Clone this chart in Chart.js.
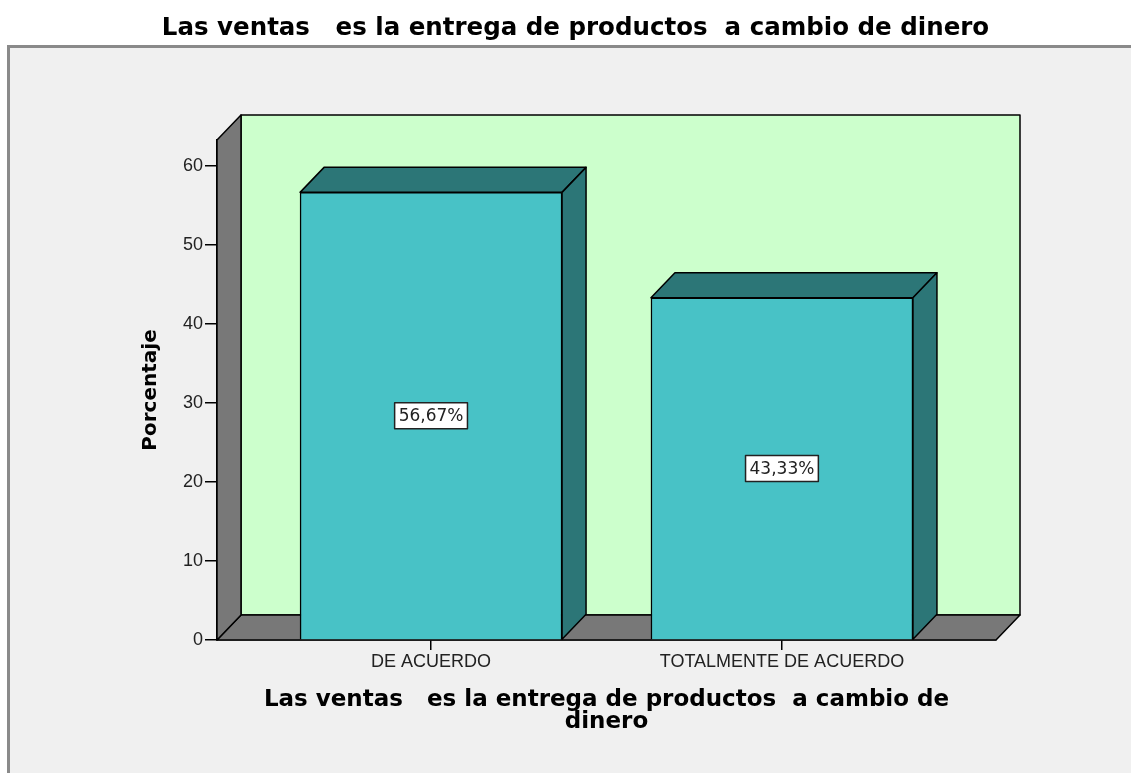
<!DOCTYPE html>
<html lang="es">
<head>
    <meta charset="UTF-8">
    <title>Las ventas es la entrega de productos a cambio de dinero</title>
    <script src="https://cdn.jsdelivr.net/npm/chart.js"></script>
    <style>
        html, body {
            margin: 0;
            padding: 0;
            background: #ffffff;
            overflow: hidden;
        }
        .frame {
            position: absolute;
            left: 7px;
            top: 45px;
            width: 1140px;
            height: 760px;
            background: #f0f0f0;
            border-left: 3px solid #8a8a8a;
            border-top: 3px solid #8a8a8a;
        }
        .wrap {
            position: absolute;
            left: 0;
            top: 0;
            width: 1131px;
            height: 773px;
        }
    </style>
</head>
<body>
<div class="frame"></div>
<div class="wrap"><canvas id="chart" width="1131" height="773"></canvas></div>

<script>
    // datos del gráfico
    const categorias = ['DE ACUERDO', 'TOTALMENTE DE ACUERDO'];
    const porcentajes = [56.67, 43.33];
    const etiquetas = ['56,67%', '43,33%'];
    const yTicks = [0, 10, 20, 30, 40, 50, 60];

    const tituloGrafico = 'Las ventas   es la entrega de productos  a cambio de dinero';
    const tituloX = ['Las ventas   es la entrega de productos  a cambio de', 'dinero'];
    const tituloY = 'Porcentaje';

    // profundidad del efecto 3D
    const DX = 24, DY = -25;
    const FUENTE = '"Liberation Sans", Arial, sans-serif';
    const FUENTE_ANCHA = '"DejaVu Sans", sans-serif';

    function poly(ctx, pts, fill) {
        ctx.beginPath();
        ctx.moveTo(pts[0][0], pts[0][1]);
        for (let i = 1; i < pts.length; i++) ctx.lineTo(pts[i][0], pts[i][1]);
        ctx.closePath();
        ctx.fillStyle = fill;
        ctx.fill();
        ctx.lineWidth = 1.5;
        ctx.strokeStyle = '#000';
        ctx.stroke();
    }

    const paredes = {
        id: 'paredes',
        beforeDatasetsDraw(chart) {
            const { ctx, chartArea: a } = chart;
            ctx.save();
            ctx.lineJoin = 'round';
            // pared del fondo
            poly(ctx, [[a.left + DX, a.top + DY], [a.right + DX, a.top + DY], [a.right + DX, a.bottom + DY], [a.left + DX, a.bottom + DY]], '#ccffcc');
            // piso
            poly(ctx, [[a.left, a.bottom], [a.left + DX, a.bottom + DY], [a.right + DX, a.bottom + DY], [a.right, a.bottom]], '#787878');
            // pared izquierda
            poly(ctx, [[a.left, a.top], [a.left + DX, a.top + DY], [a.left + DX, a.bottom + DY], [a.left, a.bottom]], '#787878');
            ctx.restore();
        },
        afterDatasetsDraw(chart) {
            const { ctx } = chart;
            const meta = chart.getDatasetMeta(0);
            ctx.save();
            ctx.lineJoin = 'round';
            meta.data.forEach((bar, i) => {
                const l = bar.x - bar.width / 2, r = bar.x + bar.width / 2;
                const t = bar.y, b = bar.base;
                // cara superior
                poly(ctx, [[l, t], [l + DX, t + DY], [r + DX, t + DY], [r, t]], '#2c7677');
                // cara lateral
                poly(ctx, [[r, t], [r + DX, t + DY], [r + DX, b + DY], [r, b]], '#2c7677');
                // etiqueta
                const cy = (t + b) / 2;
                ctx.font = '17px ' + FUENTE_ANCHA;
                const w = ctx.measureText(etiquetas[i]).width + 8;
                const h = 26;
                ctx.fillStyle = '#fff';
                ctx.fillRect(bar.x - w / 2, cy - h / 2, w, h);
                ctx.lineWidth = 1.5;
                ctx.strokeStyle = '#222';
                ctx.strokeRect(bar.x - w / 2, cy - h / 2, w, h);
                ctx.fillStyle = '#222';
                ctx.textAlign = 'center';
                ctx.textBaseline = 'middle';
                ctx.fillText(etiquetas[i], bar.x, cy + 1);
            });
            ctx.restore();
        }
    };

    const ctx = document.getElementById('chart').getContext('2d');
    new Chart(ctx, {
        type: 'bar',
        data: {
            datasets: [{
                data: porcentajes.map((v, i) => ({ x: i, y: v })),
                backgroundColor: '#48c2c6',
                borderColor: '#000',
                borderWidth: 1.5,
                barThickness: 262
            }]
        },
        plugins: [paredes],
        options: {
            responsive: false,
            animation: false,
            layout: { padding: { left: 20, right: 0, top: 0, bottom: 0 } },
            plugins: {
                legend: { display: false },
                tooltip: { enabled: false },
                title: {
                    display: true,
                    text: tituloGrafico,
                    color: '#000',
                    font: { family: FUENTE_ANCHA, size: 24.5, weight: 'bold', lineHeight: 1.2 },
                    padding: { top: 13.5, bottom: 97.1 }
                }
            },
            scales: {
                x: {
                    type: 'linear',
                    offset: false,
                    min: -0.61,
                    max: 1.61,
                    afterBuildTicks: s => { s.ticks = categorias.map((c, i) => ({ value: i })); },
                    afterFit: s => { s.height = 133; },
                    ticks: {
                        callback: v => categorias[v],
                        color: '#222',
                        font: { family: FUENTE, size: 18 },
                        padding: 1,
                        maxRotation: 0,
                        autoSkip: false
                    },
                    grid: { offset: false, drawOnChartArea: false, drawTicks: true, tickLength: 10, color: '#000', lineWidth: 1.5 },
                    border: { display: true, color: '#000', width: 1.5 },
                    title: {
                        display: true,
                        text: tituloX,
                        color: '#000',
                        font: { family: FUENTE_ANCHA, size: 23, weight: 'bold', lineHeight: 0.96 },
                        padding: { top: 0, bottom: 40 }
                    }
                },
                y: {
                    min: 0,
                    max: 63.3,
                    afterBuildTicks: s => { s.ticks = yTicks.map(v => ({ value: v })); },
                    afterFit: s => { s.width = 197; },
                    ticks: {
                        color: '#222',
                        font: { family: FUENTE, size: 18 },
                        padding: 2,
                        includeBounds: false
                    },
                    grid: { drawOnChartArea: false, drawTicks: true, tickLength: 12, color: '#000', lineWidth: 1.5 },
                    border: { display: true, color: '#000', width: 1.5 },
                    title: {
                        display: true,
                        text: tituloY,
                        color: '#000',
                        font: { family: FUENTE_ANCHA, size: 20, weight: 'bold', lineHeight: 1.2 },
                        padding: { top: 119, bottom: 0 }
                    }
                },
                // eje vacío que reserva el margen derecho
                margen: {
                    position: 'right',
                    afterFit: s => { s.width = 135; },
                    ticks: { display: false },
                    grid: { display: false },
                    border: { display: false }
                }
            }
        }
    });
</script>
</body>
</html>
